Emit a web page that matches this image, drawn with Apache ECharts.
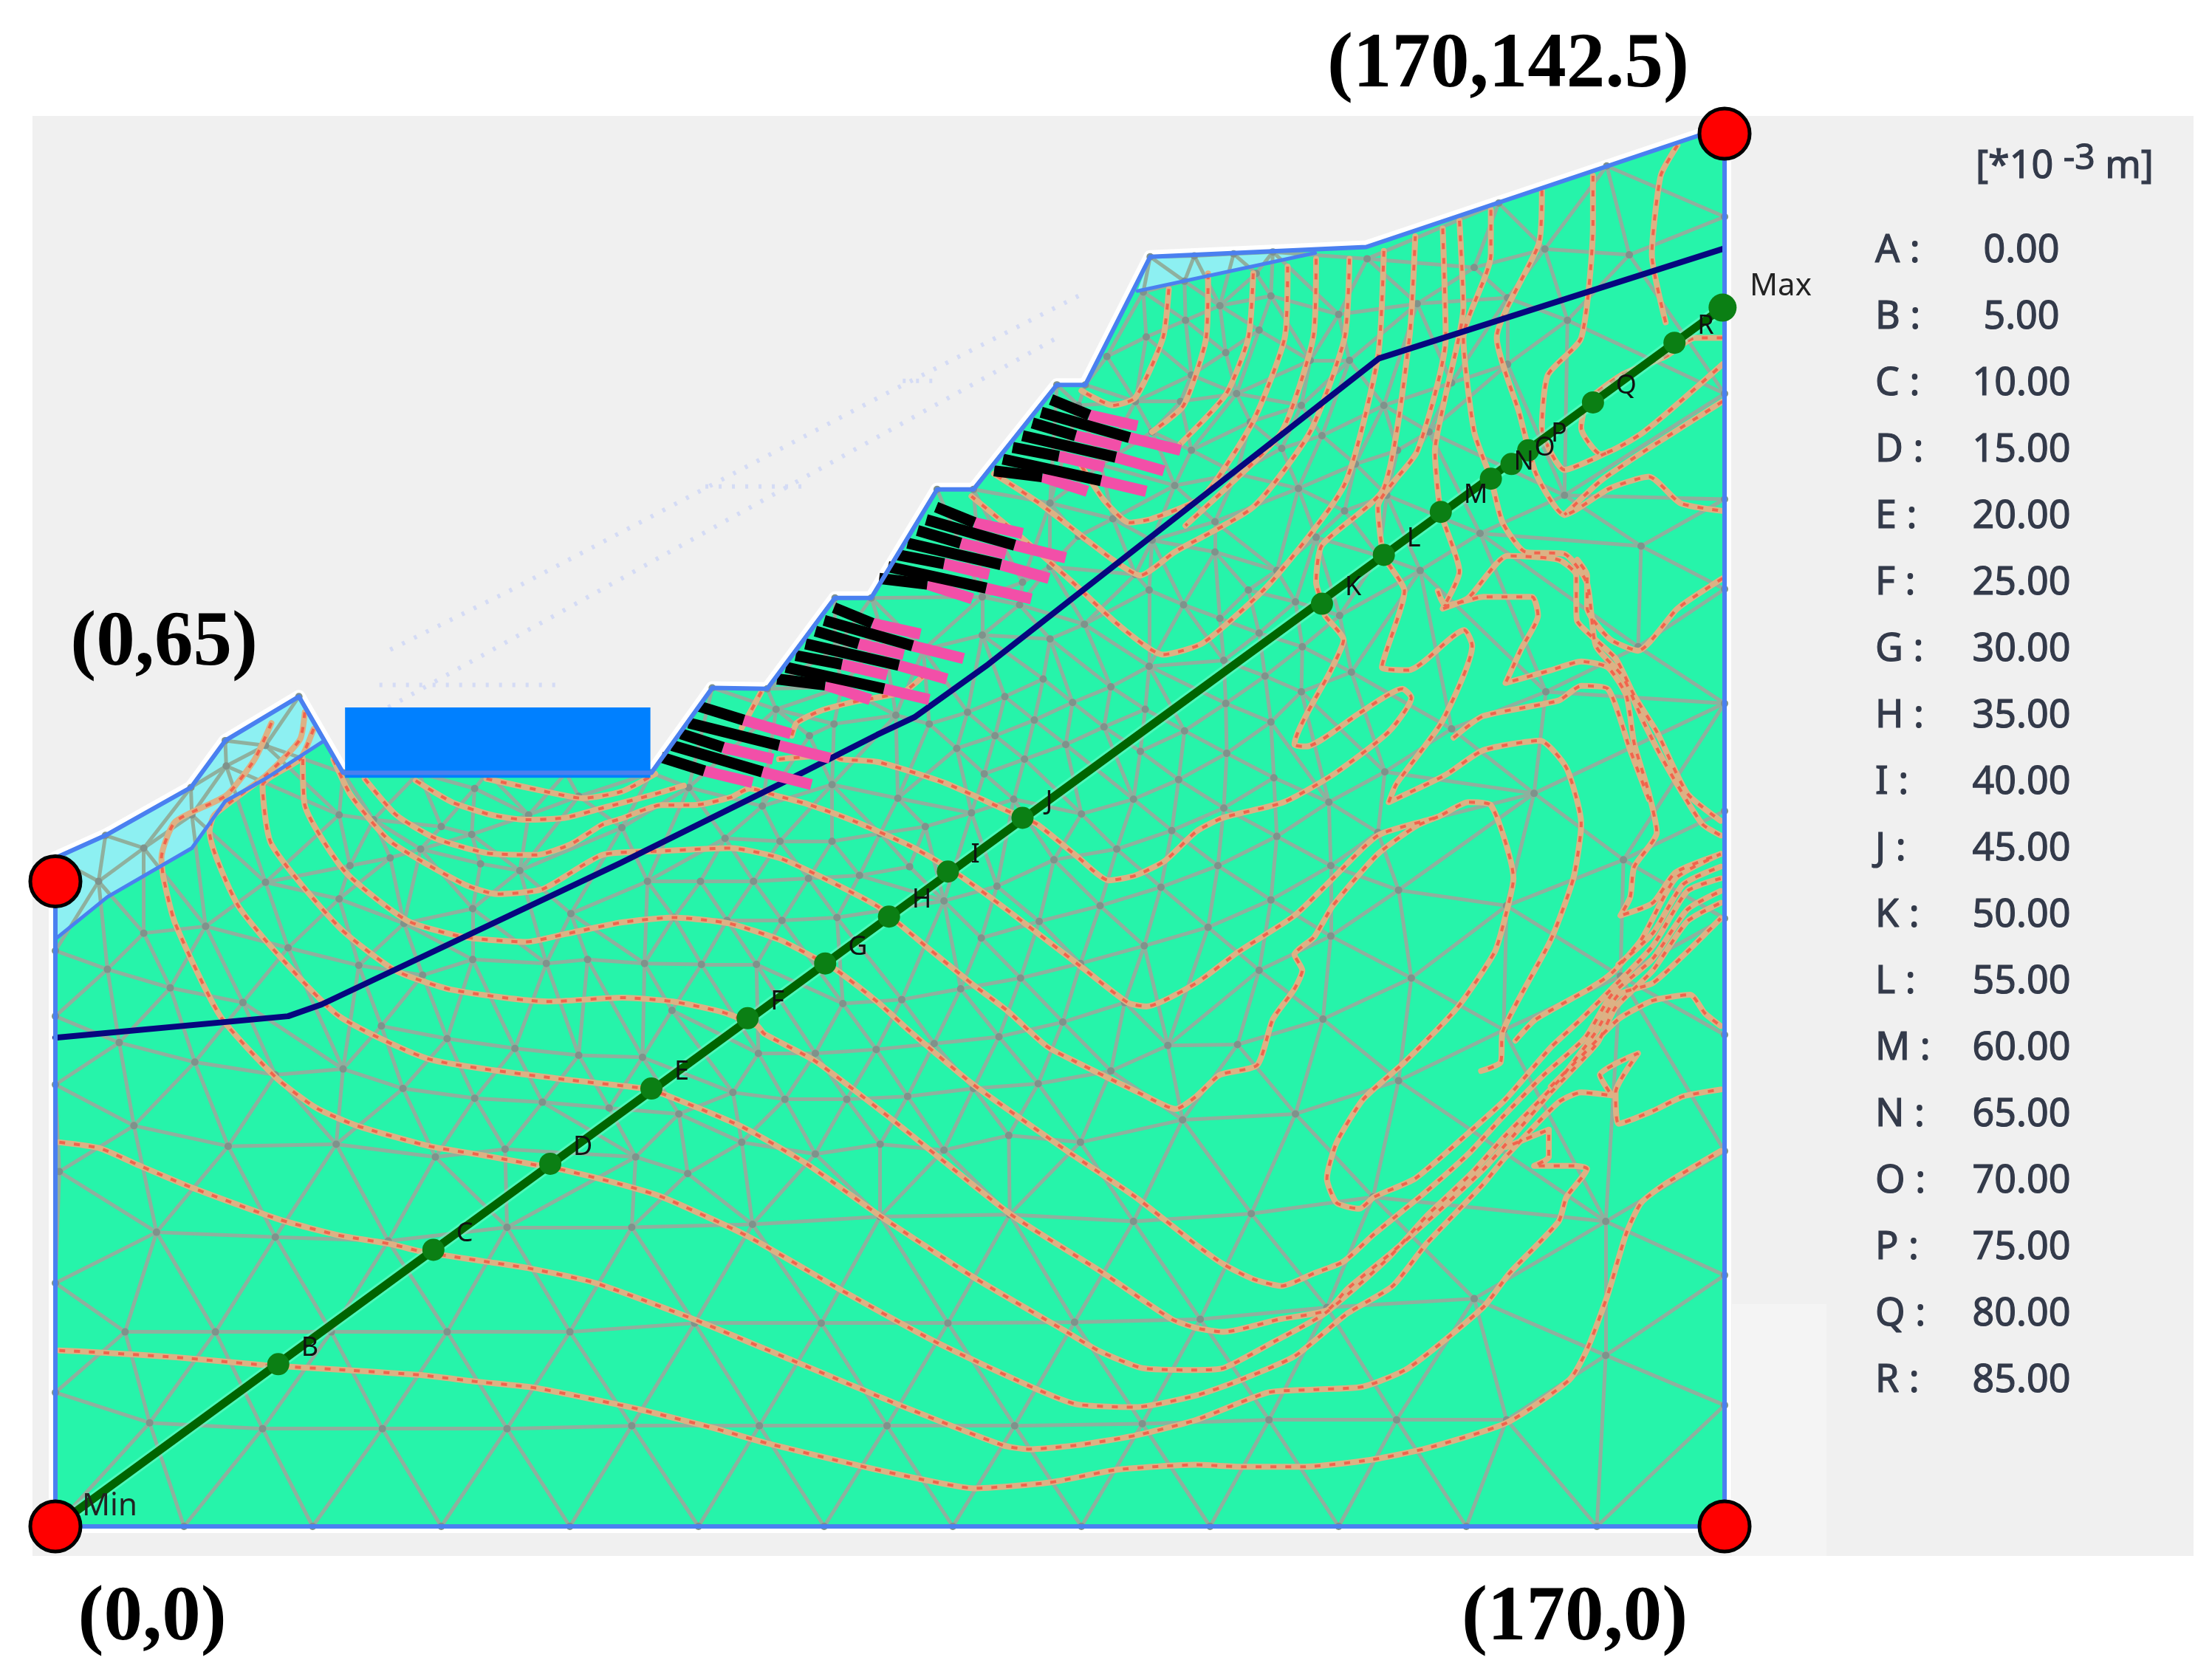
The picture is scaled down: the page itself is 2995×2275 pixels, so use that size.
<!DOCTYPE html>
<html><head><meta charset="utf-8">
<style>html,body{margin:0;padding:0;background:#fff}#c{width:2995px;height:2275px}</style>
<script src="https://cdn.jsdelivr.net/npm/echarts@6/dist/echarts.min.js"></script>
</head><body><div id="c"></div>
<script>
const legendLetters=['A','B','C','D','E','F','G','H','I','J','K','L','M','N','O','P','Q','R'];
const legendValues=['0.00','5.00','10.00','15.00','20.00','25.00','30.00','35.00','40.00','45.00','50.00','55.00','60.00','65.00','70.00','75.00','80.00','85.00'];
const cornerPoints=[[0,0],[0,66],[170,142.5],[170,0]];
const domainOutline=[[0,0],[0,68.4],[5.1,70.7],[13.8,75.6],[17.3,80.4],[24.8,84.9],[29.3,77.1],[60.7,77.1],[66.9,85.8],[72.5,85.7],[79.4,95],[83.1,95],[89.8,106.1],[93.5,106.1],[102,116.8],[104.9,116.8],[111.5,129.9],[133.5,130.9],[170,143.2],[170,0],[0,0]];
const softLayerLeft=[[0,60.1],[0,68.4],[5.1,70.7],[13.8,75.6],[17.3,80.4],[24.8,84.9],[27.4,80.4],[21.4,76.5],[17.3,74.2],[15.9,72.2],[13.9,69.4],[5.3,64.4]];
const softLayerTop=[[111.5,129.9],[128.3,130.3],[110.2,126.4]];
const loadBlock=[[29.5,76.6],[60.6,76.6],[60.6,83.8],[29.5,83.8]];
const waterLine=[[0,50],[23.7,52.2],[27.1,53.4],[57.6,67.9],[73.7,75.9],[83.7,81],[87.5,82.8],[95,88.2],[134.8,119.5],[169.8,130.7]];
const sectionEnds=[[0,0],[169.8,124.7]];
const sectionDots=[[22.7,16.6],[38.5,28.3],[50.4,37.1],[60.7,44.8],[70.5,52],[78.4,57.6],[84.9,62.4],[90.9,67],[98.5,72.5],[129,94.4],[135.3,99.4],[141.1,103.8],[146.2,107.2],[148.3,108.7],[150,110.1],[156.6,115],[164.9,121.1]];
const sectionLetters=['B','C','D','E','F','G','H','I','J','K','L','M','N','O','P','Q','R'];
const ghostLines=[[[34.1,89.7],[46.2,95.7],[84.6,115.9],[104.2,125.9]],[[33.9,83.8],[102,121.6]],[[33,86.1],[51.3,86.1]],[[66.2,106.4],[76.3,106.4]],[[86.3,117.2],[89.9,117.2]]];
const bolts=[
[[65.6,83.9],[70.1,82.5],[74.9,81.1]],[[64.5,82.2],[73.7,79.9],[78.9,78.6]],[[63.7,81.1],[68,79.7],[73.1,78.5]],[[62.8,79.9],[72,77.2],[77,75.9]],[[61.7,78.7],[66.1,77.3],[71,76.1]],
[[79.3,94],[83.2,92.4],[88.1,91.3]],[[78.3,92.7],[87.3,90.1],[92.5,88.8]],[[77.4,91.6],[81.8,90.3],[86.4,89.2]],[[76.4,90.3],[85.9,88.1],[90.8,86.7]],[[75.4,89.1],[80.1,88.2],[84.7,87.1]],[[74.4,87.9],[84.4,85.7],[89,84.6]],[[73.5,86.7],[78.4,86.1],[83,84.6]],
[[89.7,104.3],[93.6,102.7],[98.5,101.6]],[[88.7,103],[97.7,100.4],[102.9,99.1]],[[87.8,101.9],[92.2,100.6],[96.8,99.5]],[[86.8,100.6],[96.3,98.4],[101.2,97]],[[85.8,99.4],[90.5,98.5],[95.1,97.4]],[[84.8,98.2],[94.8,96],[99.4,94.9]],[[83.9,97],[88.8,96.4],[93.4,94.9]],
[[101.4,115.3],[105.3,113.7],[110.2,112.6]],[[100.4,114],[109.4,111.4],[114.6,110.1]],[[99.5,112.9],[103.9,111.6],[108.5,110.5]],[[98.5,111.6],[108,109.4],[112.9,108]],[[97.5,110.4],[102.2,109.5],[106.8,108.4]],[[96.5,109.2],[106.5,107],[111.1,105.9]],[[95.6,108],[100.5,107.4],[105.1,105.9]]];
const contourB=[[0.4,18],[4.5,17.8],[12.3,17.3],[21.3,16.5],[29.6,16],[37,15.5],[43,14.8],[48.7,14.2],[57.6,12.4],[59.8,11.9],[66.9,10.1],[72.5,8.5],[81.9,6.2],[88.3,4.8],[93.5,3.9],[101.3,4.5],[108.1,5.8],[116.2,6.3],[120.9,6.1],[127,6.1],[133.9,6.8],[139.7,8],[147.8,10.6],[154.2,15],[156,18.1],[158.1,23.7],[160,30],[161.5,33.1],[163.9,35],[169.6,38.4]];
const contourC=[[0.4,39.3],[4.5,38.7],[8.6,36.9],[13.8,34.7],[22.8,31.4],[28.8,29.8],[34.1,28.9],[37.4,28.1],[43.8,27.1],[48.3,26.4],[55,24.9],[65,21.2],[75.5,16.8],[86,12.4],[96.5,8.3],[99.1,7.9],[104,8.3],[110,9.3],[116.2,10.9],[123.5,13.7],[128.2,14],[133.2,14.3],[137.8,16.2],[145.4,22.4],[148.1,25.9],[153.1,31.2],[153.9,33.7],[156,36.6],[154.6,36.9],[150.6,36.9],[152.1,37.8],[152.1,40.6],[147.7,38.8]];
const contourD=[[22,82.2],[20.3,78.5],[17.4,74.8],[12.2,72.1],[10.8,68.4],[11,66.4],[12.2,61.7],[16.8,52.2],[22.6,45.8],[26.6,42.8],[30.7,41],[38.1,38.9],[43.4,38],[48.8,37],[51.6,36.5],[57.6,35],[61.8,33.7],[70.3,29.8],[80,24.2],[89.8,18.8],[99.8,14.1],[104,12.5],[110,12.2],[116.2,13.4],[120.5,14.9],[126.2,17.4],[131.6,21.8],[136.2,24.6],[139.7,29],[145.4,35],[147.7,37.8],[153.1,43.4],[155.4,44.4],[158.5,44.1],[157.3,46.2],[161.2,48.4],[158.9,44.4],[159.2,41.2],[162.7,42.5],[165.8,44],[169.6,44.7]];
const contourE=[[25.4,83.3],[24.9,80.5],[21.4,76.8],[16.2,72.8],[15.7,71.1],[18.5,63.7],[22.6,58.6],[28.9,52.2],[38.1,47.8],[51.3,45.8],[60,44.8],[62,44.2],[69.9,40.9],[76.5,37.1],[84.1,31.7],[93.5,25.5],[103,19.9],[106.2,18],[110.7,16.2],[116.2,16],[119,16.2],[124.3,19],[129.3,21.8],[135.8,27.5],[139.7,31.8],[144.3,36.2],[147.7,40],[153.1,45.6],[156.9,50.6],[159.2,54.4],[162.7,55.6],[166.2,58.8],[169.6,62.2]];
const contourF=[[26.3,81.6],[24.9,78.5],[21.1,75.8],[22,69.8],[28.9,61.3],[34.6,56.9],[40.4,54.9],[50.2,53.7],[57.7,54.1],[62.9,53.7],[68,52.6],[71.5,51.2],[72.2,50.4],[77.4,47.6],[85.5,41.4],[97.2,32],[106.6,26],[113.7,21.2],[116.2,20.3],[119,19.9],[124.7,21.2],[129.5,22.1],[131.6,24.3],[136.2,28.1],[140.8,32.2],[145.4,36.5],[148.5,40],[152.3,44.4],[157,49.4],[158.9,53.1],[162.7,56.9],[166.2,61.9],[169.6,63.8]];
const contourG=[[25.2,78.5],[25.4,73.8],[29.5,67],[35.8,62],[41.6,60.3],[47.9,59.8],[51.9,60.6],[57.7,61.8],[62.9,62.3],[68.6,61.7],[73.8,60],[78.4,57.6],[79.6,56.9],[83.8,53.6],[87.1,50.6],[93.5,45.2],[103.2,38.3],[110,33.7],[116.2,28.8],[119,26.8],[122,25.3],[124.9,24.6],[128.2,25.9],[131.2,27.1],[134.3,29.9],[139.3,34],[143.9,38.1],[147.4,41.9],[151.6,46.2],[155.8,50],[158.5,54.4],[162.7,58.1],[166.2,63.1],[169.6,65]];
const contourH=[[28.3,78.5],[30.1,74.8],[34.1,70.1],[41.6,65.7],[45,64.7],[49.6,65.2],[55.7,68.7],[61.7,69.1],[68.8,69.4],[73.7,68.4],[78.1,66.4],[83.8,63.4],[86,61.6],[88.6,59.4],[93.5,55.4],[96.9,52.8],[101,49.1],[104,47.5],[110.7,44.2],[114.1,42.7],[116.2,44],[118.6,46.2],[122.4,47.2],[124,51.9],[126.2,55],[127,56.9],[126.2,58.5],[128.2,60.3],[130.1,63.5],[134.7,68.8],[138.5,71.6],[140.8,72.6]];
const contourI=[[31.5,76.5],[34.7,72.8],[38.7,70.4],[43.9,68.9],[49,68.7],[52.5,69.8],[55.7,71.8],[57.6,72.4],[61.7,73.8],[65,73.8],[68.8,74.6],[70.7,75.5],[73.3,74.8],[76.6,73.9],[81.5,72.1],[87.1,69.6],[90.1,67.9],[92.4,66.4],[96.9,63.1],[104.3,57.4],[109.2,53.6],[111.1,53.2],[116.2,55.6],[120.5,58.8],[126.2,62.5],[130.1,66.3],[134.7,70.7],[140.8,72.6],[143.9,74.1],[146.2,73.8],[148.5,66.3],[147.7,62.5],[146.6,58.8],[142.8,53.1],[137.4,47.5],[133.2,43.7],[130.5,39.3],[129.5,35.6],[130.5,33.1],[132.8,32.5],[134.3,33.7],[138.5,35.6],[144.3,40.6],[147.7,43.7],[152.3,49],[155.4,51.9],[158.5,55],[162.7,59.4],[166.2,65],[169.6,66.3]];
const contourBasinA=[[43.9,76.5],[50.8,75],[53.7,74.5],[57.7,75.2],[61.1,77]];
const contourBasinB=[[36.7,76.3],[40.4,74.1],[44.4,72.8],[47.9,72.3],[51.9,72.5],[55.7,73.5],[60.6,74.8],[64,75.8]];
const contourJ=[[73.7,78.5],[78.9,78.9],[80,78.5],[83.8,78.2],[90.5,76.1],[97.2,73.1],[99.9,71.9],[104,68.6],[107.3,66.1],[110,66.6],[113,68.1],[116.2,71.1],[118.9,72.5],[125.1,74.1],[130.1,76.9],[135.8,81.3],[138.1,84.8],[137.2,85.7],[132.8,83.2],[127.4,79.8],[126.2,80],[129.9,87.6],[131.2,90.7],[129.3,93.2],[129,94.5],[128.4,96.6],[129,100.4],[135.3,106.2],[137.9,121.6],[138.5,132]];
const contourL=[[141.3,132.8],[141.6,121.6],[138.7,110],[134.7,104.3],[135.3,99.3],[137.4,95.7],[135.1,87.9],[137.8,87.6],[143.5,91.7],[144.3,90.1],[141.2,82.3],[136.6,76],[135.8,74.1],[141.6,76.9],[145.4,79.4],[151.2,80.4],[153.9,77.6],[155.4,71.9],[154.6,66.3],[152.3,60],[147.4,50.6],[147.2,47.5],[145.2,46.6]];
const contourL2=[[148.7,49.7],[150.8,51.9],[156.2,55],[158.5,56.6],[161.5,60],[165,66.3],[169.6,68.8]];
const contourM=[[143,133.6],[143.4,124.7],[141.6,115.8],[140.5,110],[141.1,103.8],[143,97.7],[141.3,93.9],[143.9,95],[147.9,99.3],[153.1,98.9],[154.9,97.3],[154.9,93.9],[155,92.6],[158.9,88.8],[160.8,85],[163.1,81.3],[166.2,75],[169.6,72.2]];
const contourN=[[146.2,134.7],[146.2,130.1],[143.4,121.6],[144.5,112],[146.2,107.2],[147.4,102.7],[149.7,99.7],[153.7,99.5],[156,96.5],[156.9,90.1],[159.6,87],[161.9,82],[164.2,77.6],[167.7,71.9],[169.6,70.7]];
const contourO=[[151.4,136.7],[151.1,131.3],[146.8,121.6],[149.1,113.9],[150.8,107.7],[153.7,103.5],[158.3,106.2],[162.3,107.4],[165.5,104.7],[169.8,103.9]];
const contourP=[[156.6,138.2],[156.6,133.2],[155.4,121.6],[152,117.8],[151.4,112.4],[153.7,108.1],[158.3,110]];
const contourQ=[[169.8,121.6],[167,121.6],[164,119.7],[159.5,117.8],[156,115.1],[155.4,112.4],[157.4,109.7],[161.8,112],[169.8,118.9]];
const contourQ2=[[169.8,115.1],[161.8,110],[157.4,107],[153.7,103.5]];
const contourR=[[165.2,141.3],[163.5,138.2],[162.6,130.1],[164,123.2]];
const contourArmA=[[113.4,126.6],[112.8,121.6],[110,115.5],[107.7,114.7],[104.5,116.2]];
const contourArmB=[[117.4,128.2],[117.2,121.6],[114.9,114.7],[111.7,112]];
const contourArmC=[[122,128.2],[121.5,121.6],[119.2,115.8],[114.6,110.8]];
const contourArmD=[[125.5,128.9],[125.2,121.6],[122,113.1],[116.9,105.4],[111.7,103.1],[109.4,102.7],[106.8,105],[104.5,108.5]];
const contourArmE=[[128.4,129.7],[128.1,121.6],[124.9,112],[119.2,106.2],[115.1,102.4]];
const contourArmF=[[131.8,129.7],[131.3,121.6],[127.8,112],[122,104.3],[114,99.7],[110.5,97.3],[107.7,98.9],[100.2,104.7],[95.6,107.7]];
const contourArmG=[[135.3,130.5],[134.7,119.7],[131.3,106.6],[123.8,96.6],[116.9,90.4],[112.8,89.2],[108.2,92.3],[103.6,96.6],[97.9,101.6],[93.3,105.4]];
const contourBench1=[[71.9,85.4],[69.9,81.7]];
const contourBench2=[[88.6,87.2],[86.4,85.4],[81.5,84.4],[77.8,83.4],[75.5,82.2],[75,80.9]];
const contourRight1=[[169.8,97],[165.2,93.9],[161.2,89.6],[158.3,90.8],[156,94],[156,97.3],[155,98.9]];
const contourRight2=[[140.8,95.7],[141.6,94.2],[145.4,95.1],[150.4,95.1],[151,93.2],[149.3,89.8],[147.7,86.3],[152.3,87.6],[155.4,88.5],[158.1,87.9],[160,85],[160.8,80.1],[162.3,75],[163.1,71],[160.8,67.5],[160.4,64.4],[159.4,62.5],[162.7,63.8],[165,66.9],[169.6,68.8]];
const contourRight3=[[142.4,80.7],[145.4,82.9],[153.1,84.5],[155.4,86],[158.1,85.7],[160.4,79.4],[162.3,74.4]];
const contourLower=[[152.3,45],[155.4,48.1],[159.2,51.9],[162.7,53.8],[166.5,54.4],[168,52.5],[169.6,51.2]];
const contourFan=[[159.2,57.5],[162.7,60.7],[165.8,65.7],[169.6,67.5]];
const contours=[contourB,contourC,contourD,contourE,contourF,contourG,contourH,contourI,contourBasinA,contourBasinB,contourJ,contourL,contourL2,contourM,contourN,contourO,contourP,contourQ,contourQ2,contourR,contourArmA,contourArmB,contourArmC,contourArmD,contourArmE,contourArmF,contourArmG,contourBench1,contourBench2,contourRight1,contourRight2,contourRight3,contourLower,contourFan];
const meshNodes=[
[0,0],[13.1,0],[26.2,0],[39.3,0],[52.4,0],[65.5,0],[78.3,0],[91.4,0],[104.5,0],[117.6,0],[130.7,0],[143.7,0],[157,0],[170,0],
[0,13.7],[9.6,10.6],[21.1,10],[33.3,10],[46,10],[58.7,10.3],[71.7,10.3],[84.7,10.3],[97.7,10.3],[110.7,10.5],[123.6,10.9],[136.6,10.9],[147.8,10.9],[157.9,17.5],[170,12.4],
[0,24.9],[7.1,19.9],[16.3,19.9],[28.1,19.9],[39.9,19.9],[52.4,19.9],[65.1,20.8],[78,20.8],[90.9,20.8],[103.8,20.9],[116.6,21.2],[129.5,22.4],[144.5,23.3],[170,25.7],
[0.4,36.3],[10.3,30.1],[22.4,29.6],[33.9,29.2],[46,30.6],[58.7,30.6],[71,30.9],[84,31.7],[97.2,31.9],[109.8,31.2],[121.8,32],[134.2,33.7],[157.9,31.2],
[8,41],[17.6,38.9],[28.6,39.1],[38.7,37.8],[45.8,38.6],[59.1,37.8],[63.5,42.2],[64.4,36.1],[69.9,39.3],[77.4,38.1],[84,39.1],[90.5,38.5],[97.1,40],[104.4,39.3],[114.8,41.6],[126.3,42.2],[136.8,45.6],[147.5,50.8],[159.4,56.3],[170,38.4],[170,50.3],[170,62.2],[170,73.2],[170,84.2],[170,95.9],[170,105.1],[170,115.9],[170,134],
[14.2,47.5],[22.4,46.2],[29.3,46.8],[35.4,44.8],[42.7,43.8],[49.6,43.4],[56.4,42.8],[6.5,49.5],[0,45.2],[69,44.4],[74.3,43.7],[80.6,43.7],[86.8,44],[93.5,44.8],[100.1,45.3],[107.5,46.6],
[113.3,49.2],[96.1,50.1],[89.5,49.4],[83.6,48.8],[77.4,48.4],[71.6,48.4],[59.8,48],[39.9,49.9],[46.8,48.9],[53.3,48.2],
[62.8,52.8],[80.2,53.5],[86.2,53.9],[92.2,55],[98.3,56.1],[108.9,53.6],[102.6,51.6],
[5.3,57],[11.7,55.1],[19.1,53.6],[33.2,51.2],[30.9,57.4],[23.7,59.2],[15.3,61.4],[9,60.7],[0,52.2],[0,58.9],
[35.5,61.7],[28.9,64.2],[21.4,65.9],[28.9,72.8],[32.4,72.3],[39.3,71.6],[42.4,70.8],[37.2,69.3],[34.1,68.4],[30,67.6],[48.2,72.8],[42.7,75.5],[53.3,74.7],[57.7,71.5],
[43.3,67.8],[47.3,67.1],[52.5,62.7],[54.2,58],[42.5,58],[42.5,63.2],[50,57.6],[37.4,56.4],
[60,57.6],[65.8,57.5],[71.4,57.5],[63,62.3],[68.4,62],[74,62],[79.6,62.3],[60.3,66],[65.7,66],[71.1,66],[76.7,66.3],[81.9,66.6],[87,67.5],[90.5,64],[68.2,70.4],[73.8,70.1],[79.1,70.1],[84,70.9],[88.6,71.6],[93.3,73],[97.6,74.4],
[64.5,75.6],[72,73.7],[79.1,75.9],[85.8,74.5],
[76.8,80.9],[79.3,82.1],[85.6,83],[89,82.1],[91.8,79.6],[95.7,80.9],[94.6,77],[98.7,78.5],
[92.9,83.3],[96.7,84.9],[99.7,82.5],[103.6,84.3],[107.5,85.9],[111.4,88],[100.6,86.7],
[106.8,81.8],[111,83.6],[115,81.4],[109.8,74.4],[104.5,72.9],[113.7,71.2],[108.1,69.3],[101.7,68.2],[102.9,80],[110.5,79.3],[114.4,76.4],
[95.9,65.5],[112.6,65.4],[106.4,63.5],[100.2,61.9],[94.3,60.2],[110.9,59.4],[104.4,57.6],
[120.4,49.3],[129.1,51.9],[138.1,56.1],[147.8,63.5],[159.7,68.2],[150.6,75],[151.8,85.4],[161.2,90],[142.2,81.6],[135.4,77.2],[129.7,74.1],[134.7,71],[124.4,70.6],[136.8,65.1],[129.9,67.6],[123.8,64.1],[118.4,67.6],[117.4,61.3],[129.9,60.4],[122.6,56.9],[119,73.5],[124.1,76.6],[119.3,79.1],[123.8,82.3],[119.2,84.2],[132,87.4],[126.9,85.4],[123.2,87],[119,88.6],[127,90],[122.6,91.4],[126.3,94.6],[118.6,92.9],[130.8,93.2],
[153.7,105.5],[161.5,100.3],[154,123.4],[160.3,130.1],[147.9,125.7],[147.9,118.9],[151.7,130.7],[144.5,128.8],[138.7,125.1],[142.2,117],[136.7,110.1],[139.9,112],[145.1,101.6],[135.6,105.5],[132.4,108.7],[129,111.6],[126.9,114.7],[123.8,125.9],[122.6,122.4],[119.2,120.1],[121.7,113],[124.9,110.3],[114.6,115.1],[111.1,121.7],[115.1,123.4],[118.6,124.9],[131.3,103.9],[139,97.8],[124.4,97.8],[121.5,95.8],[118.1,99.7],[114.9,94.3],[111.4,95.8],[104.8,92.3],[101.3,90.8],[94.4,91.2],[98.2,94.3],[101.3,104.7],[114,106.5],[126.6,106.2],[120.3,107.7],[128.4,101.2],[134.8,99.3],[110,97.4],[104.2,101.3],[107.7,103.1],[111.7,100.9],[118.1,102.8],[114,104.7],[101.3,98.2],[94.4,95.1],[98.5,96.6],[110.8,126.3],[107.1,119.7],[104.2,114.7],[110,115.1],[115.7,117.8],[111.7,112],[106.5,108.6],[115.7,110.1],[120.3,115.9],[127.8,119.3],[130.7,124],[135.3,114.7],[131.8,119.3],
[79.4,89.7],[84.3,91.2],[88.4,89.7],[80.1,85.9],[73.4,83.6],[122.3,128.2],[133.6,129.7],
[4.4,66],[9,69.4],[13.9,72.8],[17.4,77.8],[21.4,79.9],
[116,130],[120,130.2],[124,130.4],[115,127.4],[120,128.5],
[0,60.1],[0,68.4],[5.1,70.7],[13.8,75.6],[17.3,80.4],[24.8,84.9],[29.3,77.1],[37,77.1],[44,77.1],[52,77.1],[60.7,77.1],[66.9,85.8],[72.5,85.7],[79.4,95],[83.1,95],[89.8,106.1],[93.5,106.1],[102,116.8],[104.9,116.8],[111.5,129.9],[133.5,130.9],[147,135.4],[158,139.2],[170,143.2]
];

// mesh: triangulate the node list, keep edges inside the model outline
const uniqueNodes=[];
meshNodes.forEach(p=>{ if(!uniqueNodes.some(q=>Math.hypot(p[0]-q[0],p[1]-q[1])<1.8)) uniqueNodes.push(p); });
function triangulate(pts){
  const n=pts.length, all=pts.concat([[-2000,-2000],[2500,-2000],[85,3000]]);
  const circ=(a,b,c)=>{const A=all[a],B=all[b],C=all[c];const d=2*(A[0]*(B[1]-C[1])+B[0]*(C[1]-A[1])+C[0]*(A[1]-B[1]));
    const s=p=>p[0]*p[0]+p[1]*p[1];
    const x=(s(A)*(B[1]-C[1])+s(B)*(C[1]-A[1])+s(C)*(A[1]-B[1]))/d, y=(s(A)*(C[0]-B[0])+s(B)*(A[0]-C[0])+s(C)*(B[0]-A[0]))/d;
    return {x,y,r:(A[0]-x)**2+(A[1]-y)**2};};
  let tris=[{v:[n,n+1,n+2],c:circ(n,n+1,n+2)}];
  for(let i=0;i<n;i++){
    const p=all[i],bad=[],keep=[];
    tris.forEach(t=>{((p[0]-t.c.x)**2+(p[1]-t.c.y)**2<t.c.r?bad:keep).push(t);});
    const ec={};
    bad.forEach(t=>{[[0,1],[1,2],[2,0]].forEach(([a,b])=>{const u=t.v[a],w=t.v[b],k=u<w?u+'_'+w:w+'_'+u;ec[k]=ec[k]?{c:ec[k].c+1,u,w}:{c:1,u,w};});});
    Object.values(ec).forEach(e=>{if(e.c===1)keep.push({v:[e.u,e.w,i],c:circ(e.u,e.w,i)});});
    tris=keep;
  }
  const edges={};
  tris.forEach(t=>{[[0,1],[1,2],[2,0]].forEach(([a,b])=>{const u=t.v[a],w=t.v[b];if(u<n&&w<n)edges[u<w?u+'_'+w:w+'_'+u]=[u,w];});});
  return Object.values(edges);
}
function inside(x,y){let c=false;const P=domainOutline;for(let i=0,j=P.length-1;i<P.length;j=i++){
  if((P[i][1]>y)!==(P[j][1]>y)&&x<(P[j][0]-P[i][0])*(y-P[i][1])/(P[j][1]-P[i][1])+P[i][0])c=!c;}return c;}
const meshEdges=triangulate(uniqueNodes).filter(([a,b])=>{const A=uniqueNodes[a],B=uniqueNodes[b];
  return [0.2,0.4,0.5,0.6,0.8].every(t=>inside(A[0]+(B[0]-A[0])*t,A[1]+(B[1]-A[1])*t))&&Math.hypot(A[0]-B[0],A[1]-B[1])<26;})
  .map(([a,b])=>({coords:[uniqueNodes[a],uniqueNodes[b]]}));

const polygonSeries=(pts,fill,z)=>({type:'custom',coordinateSystem:'cartesian2d',data:[0],z,silent:true,clip:false,
  renderItem:(p,api)=>({type:'polygon',shape:{points:pts.map(q=>api.coord(q))},style:{fill}})});
const lineSeries=(data,color,width,z,extra)=>Object.assign({type:'line',data,z,silent:true,clip:false,showSymbol:false,symbol:'none',
  lineStyle:{color,width,cap:'round',join:'round'}},extra||{});

const series=[];
series.push(lineSeries(domainOutline,'#FFFFFF',18,1));
series.push(polygonSeries(domainOutline,'#26F4AA',2));
series.push(polygonSeries(softLayerLeft,'#8DF0F2',3));
series.push(polygonSeries(softLayerTop,'#8DF0F2',3));
ghostLines.forEach(g=>series.push(lineSeries(g,'#D4DBF5',6,2,{lineStyle:{color:'#D4DBF5',width:6,type:[4,14]}})));
series.push({type:'lines',coordinateSystem:'cartesian2d',data:meshEdges,z:4,silent:true,lineStyle:{color:'#8FB09E',width:5,opacity:1}});
series.push({type:'scatter',data:uniqueNodes,z:4,silent:true,symbolSize:10,itemStyle:{color:'#7F928B',opacity:1}});
contours.forEach(c=>{
  series.push(lineSeries(c,'#DDB184',8,5,{smooth:0.2}));
  series.push(lineSeries(c,'#F2634C',4,6,{smooth:0.2,lineStyle:{color:'#F2634C',width:4,type:[8,12]}}));
});
series.push(polygonSeries(loadBlock,'#0080FF',7));
series.push(lineSeries(softLayerLeft.slice(5).concat([softLayerLeft[0]]),'#4A80F0',5,7));
series.push(lineSeries(softLayerTop.slice(1),'#4A80F0',5,7));
series.push(lineSeries(waterLine,'#06067E',8,8));
bolts.forEach(b=>{
  series.push(lineSeries([b[1],b[2]],'#F24FA8',15,9,{lineStyle:{color:'#F24FA8',width:15,cap:'butt'}}));
  series.push(lineSeries([b[0],b[1]],'#000000',15,10,{lineStyle:{color:'#000000',width:15,cap:'butt'}}));
});
series.push(lineSeries(domainOutline,'#4A80F0',6,11));
series.push(lineSeries(sectionEnds,'#7CFFCF',17,12,{lineStyle:{color:'#7CFFCF',width:17,opacity:.45}}));
series.push(lineSeries(sectionEnds,'#006400',11,13));
series.push({type:'scatter',z:14,silent:true,symbolSize:30,itemStyle:{color:'#0B7F14',opacity:1},
  data:sectionDots.map((p,i)=>({value:p,label:{show:true,formatter:sectionLetters[i],position:'right',distance:2,offset:[14,-22],
    fontFamily:'Noto Sans',fontSize:36,color:'#111'}}))});
series.push({type:'scatter',z:14,silent:true,symbolSize:38,itemStyle:{color:'#0B7F14',opacity:1},data:[sectionEnds[1]]});
series.push({type:'scatter',z:20,silent:true,symbolSize:68,itemStyle:{color:'#FF0000',opacity:1,borderColor:'#000',borderWidth:5},data:cornerPoints});

const gfx=[
  {type:'rect',shape:{x:44,y:157,width:2926,height:1950},style:{fill:'#F0F0F0'},z:0},
  {type:'rect',shape:{x:2345,y:1766,width:128,height:341},style:{fill:'#F4F4F4'},z:0}
];
const serif='"Liberation Serif"';
[['(170,142.5)',2042,90],['(0,65)',222,873],['(0,0)',206,2193],['(170,0)',2132,2193]].forEach(t=>
  gfx.push({type:'text',x:t[1],y:t[2],z:100,style:{text:t[0],font:'bold 105px '+serif,fill:'#000',align:'center',verticalAlign:'middle'}}));
gfx.push({type:'text',x:2675,y:226,z:100,style:{text:'[*10 {s|-3} m]',font:'52px "Noto Sans"',fill:'#333A4A',stroke:'#333A4A',lineWidth:1.2,verticalAlign:'middle',
  rich:{s:{font:'48px "Noto Sans"',fill:'#333A4A',verticalAlign:'top',padding:[0,0,22,0]}}}});
legendLetters.forEach((l,i)=>{
  const y=340+i*90;
  gfx.push({type:'text',x:2539,y,z:100,style:{text:l+' :',font:'52px "Noto Sans"',fill:'#333A4A',stroke:'#333A4A',lineWidth:1.2,verticalAlign:'middle'}});
  gfx.push({type:'text',x:2737,y,z:100,style:{text:legendValues[i],font:'52px "Noto Sans"',fill:'#333A4A',stroke:'#333A4A',lineWidth:1.2,align:'center',verticalAlign:'middle'}});
});
gfx.push({type:'text',x:2369,y:388,z:100,style:{text:'Max',font:'42px "Noto Sans"',fill:'#222',verticalAlign:'middle'}});
gfx.push({type:'text',x:111,y:2040,z:100,style:{text:'Min',font:'42px "Noto Sans"',fill:'#222',verticalAlign:'middle'}});

const chart=echarts.init(document.getElementById('c'),null,{renderer:'canvas'});
chart.setOption({animation:false,backgroundColor:'#fff',
  grid:{left:75,right:660,top:181,bottom:208},
  xAxis:{type:'value',min:0,max:170,show:false},
  yAxis:{type:'value',min:0,max:142.5,show:false},
  graphic:gfx,series});
</script></body></html>
